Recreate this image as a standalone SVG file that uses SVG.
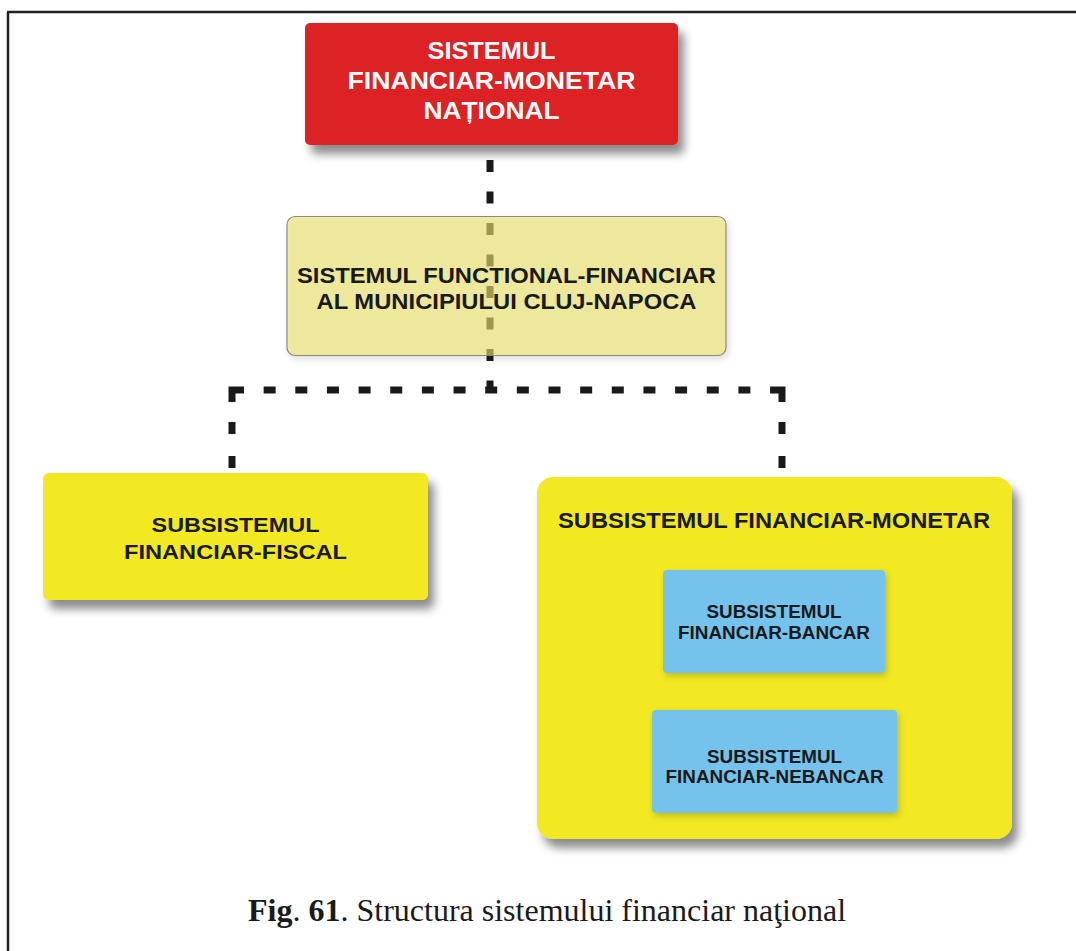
<svg xmlns="http://www.w3.org/2000/svg" width="1076" height="951" viewBox="0 0 1076 951">
<style>
.lbl{font-family:"Liberation Sans",Arial,sans-serif;font-weight:bold;text-anchor:middle;fill:#1a1a1a}
.wht{fill:#ffffff}
.conn{fill:none;stroke:#1a1a1a;stroke-width:7}
.cap{font-family:"Liberation Serif","Times New Roman",serif;font-size:32px;fill:#1a1a1a}
</style>
<defs>
<filter id="sh" x="-10%" y="-20%" width="130%" height="150%">
<feDropShadow dx="6" dy="9" stdDeviation="5" flood-color="#000" flood-opacity="0.45"/>
</filter>
<filter id="shs" x="-10%" y="-20%" width="130%" height="150%">
<feDropShadow dx="2" dy="3" stdDeviation="3" flood-color="#000" flood-opacity="0.2"/>
</filter>
</defs>
<rect width="1076" height="951" fill="#ffffff"/>
<g id="frame" stroke="#222" stroke-width="2.5" fill="none">
<line x1="7" y1="12" x2="1076" y2="12"/>
<line x1="8" y1="12" x2="8" y2="951"/>
</g>
<g id="connectors">
<path class="conn" d="M490,160 V390" stroke-dasharray="12 19.5"/>
<path class="conn" d="M232,468 V390 H782 V468" stroke-dasharray="12 22 12 20 24 19.65 12 19.65 12 19.65 12 19.65 12 19.65 12 19.65 12 19.65 12 19.65 12 19.65 12 19.65 12 19.65 12 19.65 12 19.65 12 19.65 12 19.65 12 19.65 12 19.65 24 20 12 22 12 100"/>
</g>
<g id="node-national">
<rect x="305" y="23" width="373" height="122" rx="5" fill="#dd2327" filter="url(#sh)"/>
<text class="lbl wht" font-size="24" x="491.5" y="59" textLength="128" lengthAdjust="spacingAndGlyphs">SISTEMUL</text>
<text class="lbl wht" font-size="24" x="491.5" y="89" textLength="288" lengthAdjust="spacingAndGlyphs">FINANCIAR-MONETAR</text>
<text class="lbl wht" font-size="24" x="491.5" y="119" textLength="136" lengthAdjust="spacingAndGlyphs">NAȚIONAL</text>
</g>
<g id="node-cluj">
<rect x="287" y="216.5" width="439" height="139" rx="8" fill="rgb(235,227,107)" fill-opacity="0.6" stroke="#8a8a80" stroke-width="1.2" filter="url(#shs)"/>
<text class="lbl" font-size="22.5" x="506.5" y="283" textLength="419" lengthAdjust="spacingAndGlyphs">SISTEMUL FUNCTIONAL-FINANCIAR</text>
<text class="lbl" font-size="22.5" x="506.5" y="309" textLength="380" lengthAdjust="spacingAndGlyphs">AL MUNICIPIULUI CLUJ-NAPOCA</text>
</g>
<g id="node-fiscal">
<rect x="43" y="473" width="385" height="127" rx="6" fill="#f2e922" filter="url(#sh)"/>
<text class="lbl" font-size="21" x="235.5" y="532" textLength="168" lengthAdjust="spacingAndGlyphs">SUBSISTEMUL</text>
<text class="lbl" font-size="21" x="235.5" y="559" textLength="223" lengthAdjust="spacingAndGlyphs">FINANCIAR-FISCAL</text>
</g>
<g id="node-monetar">
<rect x="537" y="477" width="475" height="362" rx="16" fill="#f2e922" filter="url(#sh)"/>
<text class="lbl" font-size="22" x="774" y="528" textLength="432" lengthAdjust="spacingAndGlyphs">SUBSISTEMUL FINANCIAR-MONETAR</text>
</g>
<g id="node-bancar">
<rect x="663" y="570" width="222" height="103" rx="4" fill="#74c2ec" filter="url(#shs)"/>
<text class="lbl" font-size="18" x="774" y="618" textLength="135" lengthAdjust="spacingAndGlyphs">SUBSISTEMUL</text>
<text class="lbl" font-size="18" x="774" y="639" textLength="192" lengthAdjust="spacingAndGlyphs">FINANCIAR-BANCAR</text>
</g>
<g id="node-nebancar">
<rect x="652" y="710" width="245" height="103" rx="4" fill="#74c2ec" filter="url(#shs)"/>
<text class="lbl" font-size="18" x="774.5" y="763" textLength="135" lengthAdjust="spacingAndGlyphs">SUBSISTEMUL</text>
<text class="lbl" font-size="18" x="774.5" y="783" textLength="218" lengthAdjust="spacingAndGlyphs">FINANCIAR-NEBANCAR</text>
</g>
<g id="caption">
<text class="cap" x="248" y="921"><tspan font-weight="bold">Fig</tspan>. <tspan font-weight="bold">61</tspan>. Structura sistemului financiar naţional</text>
</g>
</svg>
